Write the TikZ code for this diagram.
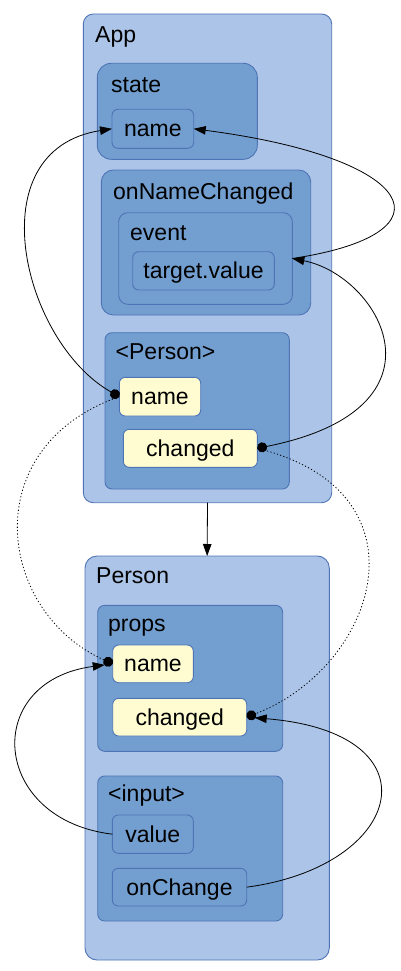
\documentclass[tikz,border=0pt]{standalone}
\usepackage{fontspec}
\setmainfont{Liberation Sans}
\usetikzlibrary{arrows.meta,fit}
\definecolor{outerfill}{HTML}{ABC4E7}
\definecolor{innerfill}{HTML}{739FD0}
\definecolor{bordercol}{HTML}{4E74B6}
\definecolor{yellowfill}{HTML}{FFFCD2}
\tikzset{
  boxbase/.style={draw=bordercol, line width=0.9pt, inner sep=0pt, outer sep=0pt},
  outerbox/.style={boxbase, fill=outerfill, rounded corners=10pt},
  innerbox/.style={boxbase, fill=innerfill, rounded corners=#1},
  yellowbox/.style={boxbase, fill=yellowfill, rounded corners=6pt},
  lbl/.style={font=\fontsize{23}{27}\selectfont, inner sep=0pt, anchor=base west, text=black},
  ctr/.style={font=\fontsize{23}{27}\selectfont, inner sep=0pt, anchor=base, text=black},
  conn/.style={line width=0.8pt, black},
  dotconn/.style={line width=0.8pt, black, dash pattern=on 1.2pt off 2.2pt},
  >={Triangle[length=12pt,width=8.5pt]},
  dottip/.tip={Circle[length=10pt]}
}
\begin{document}
\begin{tikzpicture}[x=1pt,y=-1pt]
\useasboundingbox (0,0) rectangle (401,971);
% App
\node[outerbox, fit={(83.3,14) (331.7,502.7)}] (app) {};
\node[lbl] (applbl) at (95,42.7) {App};
\node[innerbox=14pt, fit={(97.3,63.3) (257.3,159.3)}] (state) {};
\node[lbl] (statelbl) at (111,92.7) {state};
\node[innerbox=6pt, fit={(112,109.3) (193.7,148.3)}] (sname) {};
\node[ctr] (snametxt) at (152.85,136.8) {name};
\node[innerbox=12pt, fit={(101.3,170) (310.7,315)}] (onc) {};
\node[lbl] (onclbl) at (113,199) {onNameChanged};
\node[innerbox=9pt, fit={(118.7,212.7) (292.3,304.3)}] (event) {};
\node[lbl] (eventlbl) at (130,240) {event};
\node[innerbox=6pt, fit={(132.7,251.7) (274.3,290)}] (tval) {};
\node[ctr] (tvaltxt) at (203.5,278.85) {target.value};
\node[innerbox=7pt, fit={(105,332.7) (289.3,489)}] (pers) {};
\node[lbl] (perslbl) at (115.5,359.3) {<Person>};
\node[yellowbox, fit={(119.3,377.3) (200.7,416)}] (pname) {};
\node[ctr] (pnametxt) at (160,404.65) {name};
\node[yellowbox, fit={(123.3,429.3) (257.3,467.3)}] (pchanged) {};
\node[ctr] (pchangedtxt) at (190.3,456.3) {changed};
% Person
\node[outerbox, rounded corners=12pt, fit={(85,556) (329.3,960)}] (person) {};
\node[lbl] (personlbl) at (96,583.3) {Person};
\node[innerbox=7pt, fit={(97.7,605.3) (282.7,751.3)}] (props) {};
\node[lbl] (propslbl) at (108,631) {props};
\node[yellowbox, fit={(112.7,645) (193.3,682.7)}] (prname) {};
\node[ctr] (prnametxt) at (153,671.85) {name};
\node[yellowbox, fit={(112.7,698.3) (246.7,736)}] (prchanged) {};
\node[ctr] (prchangedtxt) at (179.7,725.15) {changed};
\node[innerbox=7pt, fit={(97.7,776) (282.7,921)}] (input) {};
\node[lbl] (inputlbl) at (108,801.7) {<input>};
\node[innerbox=6pt, fit={(112.3,815) (193.3,853.3)}] (value) {};
\node[ctr] (valuetxt) at (152.8,842.15) {value};
\node[innerbox=6pt, fit={(112.3,868.3) (246.7,906)}] (onchange) {};
\node[ctr] (onchangetxt) at (179.5,895.15) {onChange};
% connectors
\draw[conn, ->] (app.south) -- (person.north);
\draw[conn, {dottip}->] (pname.west) .. controls +(-97,-55) and +(-136,21) .. (sname.west);
\draw[conn, ->] (event.east) .. controls +(166,-25) and +(223,29) .. (sname.east);
\draw[conn, {dottip}->] (pchanged.east) .. controls +(200,-40) and +(87,17) .. (event.east);
\draw[dotconn, -{dottip}] (pname.west) .. controls +(-144.5,50.7) and +(-115.6,-52) .. (prname.west);
\draw[dotconn, -{dottip}] (pchanged.east) .. controls +(176.5,43.7) and +(130,-50.4) .. (prchanged.east);
\draw[conn, ->, shorten >=8pt] (value.west) .. controls +(-121.7,-14.6) and +(-131.5,17.3) .. (prname.west);
\draw[conn, ->, shorten >=8pt] (onchange.east) .. controls +(158,-21) and +(193,15.5) .. (prchanged.east);
\end{tikzpicture}
\end{document}
